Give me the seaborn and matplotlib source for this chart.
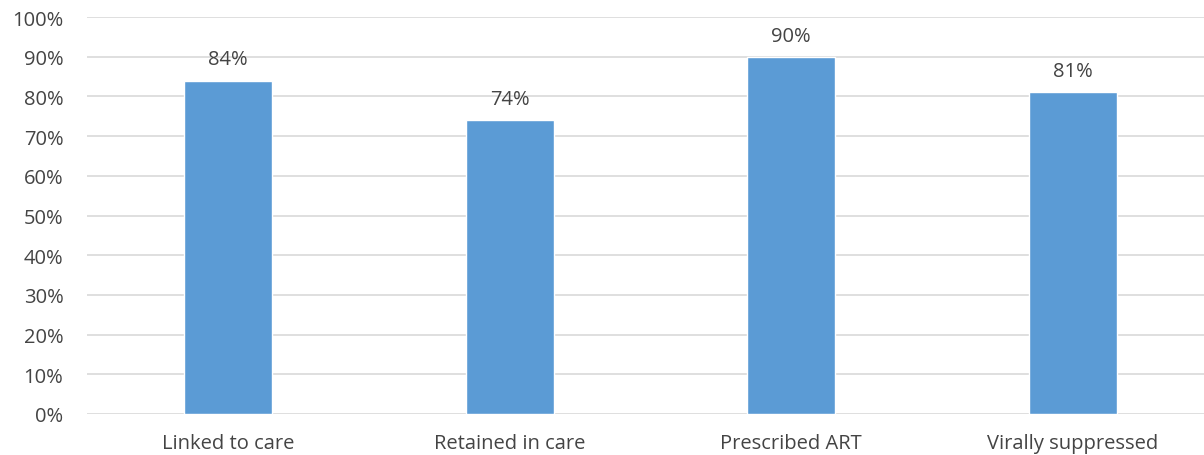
import matplotlib
matplotlib.use("Agg")
import matplotlib.pyplot as plt
import seaborn as sns
import pandas as pd
from matplotlib.ticker import FuncFormatter

categories = ["Linked to care", "Retained in care", "Prescribed ART", "Virally suppressed"]
values = [84, 74, 90, 81]
yticks = [0, 10, 20, 30, 40, 50, 60, 70, 80, 90, 100]

sns.set_theme(style="white")
plt.rcParams['font.family'] = ['Open Sans', 'DejaVu Sans']

df = pd.DataFrame({"cat": categories, "val": values})

fig = plt.figure(figsize=(12.04, 4.56), dpi=100)
ax = fig.add_axes([87/1204, 1 - 415/456, (1204-87)/1204, (415-18)/456])

sns.barplot(data=df, x="cat", y="val", color="#5B9BD5", width=0.3125, ax=ax,
            saturation=1, zorder=3)

txt = "#444444"
ax.set_ylim(0, 100)
ax.set_xlim(-0.5007, 3.466)
ax.set_yticks(yticks)
ax.yaxis.set_major_formatter(FuncFormatter(lambda v, p: f"{int(v)}%"))
ax.grid(axis="y", color="#D9D9D9", linewidth=1.2, zorder=0)
ax.set_axisbelow(True)
for s in ax.spines.values():
    s.set_visible(False)
ax.set_xlabel("")
ax.set_ylabel("")
ax.tick_params(axis="both", length=0, colors=txt, labelsize=14.5)
ax.tick_params(axis="y", pad=17)
ax.tick_params(axis="x", pad=14)

for i, v in enumerate(values):
    ax.annotate(f"{v}%", (i, v), xytext=(0, 8), textcoords="offset points",
                ha="center", va="bottom", color=txt, fontsize=14.5)

fig.savefig("out.png", dpi=100)
